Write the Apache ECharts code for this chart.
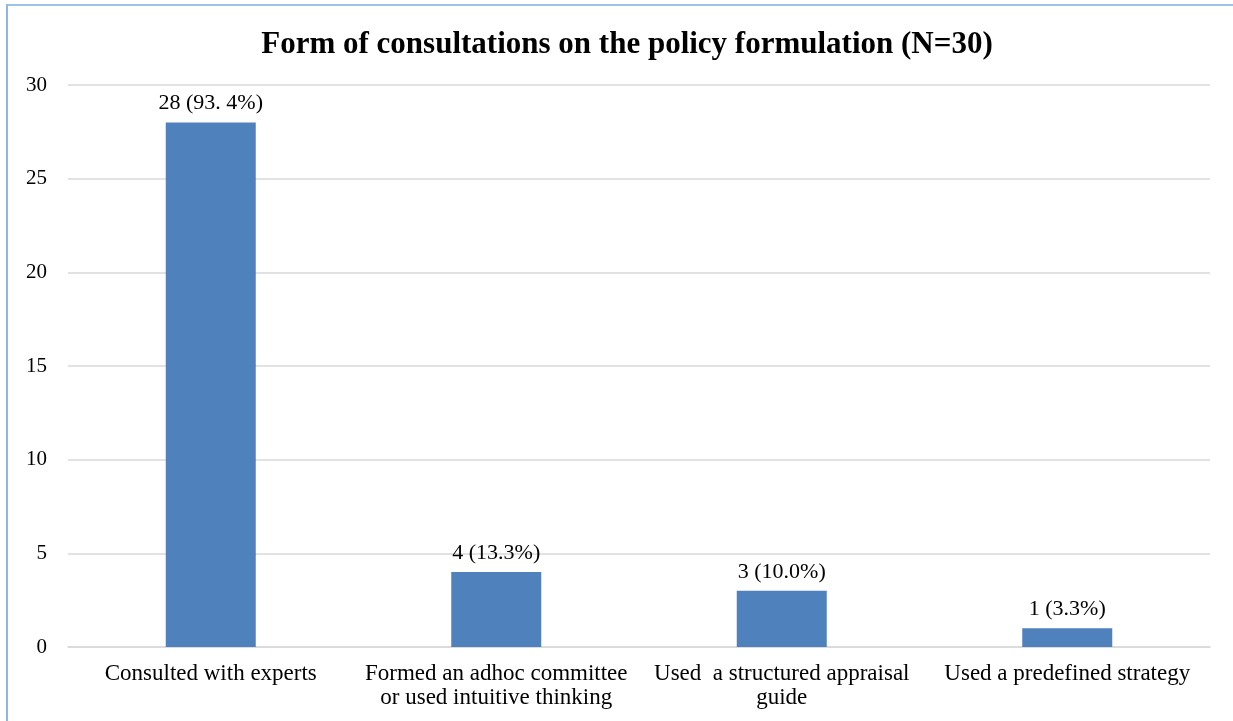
<!DOCTYPE html>
<html>
<head>
<meta charset="utf-8">
<script src="https://cdn.jsdelivr.net/npm/echarts@6/dist/echarts.min.js"></script>
<style>
html,body{margin:0;padding:0;background:#fff;}
#chart{width:1233px;height:721px;position:absolute;left:0;top:0;}
#frame{position:absolute;left:6px;top:4px;width:1240px;height:730px;border-top:2px solid #9dc3e6;border-left:2px solid #8db6e0;pointer-events:none;}
</style>
</head>
<body>
<div id="chart"></div>
<div id="frame"></div>
<script>
const titleText = 'Form of consultations on the policy formulation (N=30)';
const categories = ['Consulted with experts', 'Formed an adhoc committee\nor used intuitive thinking', 'Used  a structured appraisal\nguide', 'Used a predefined strategy'];
const values = [28, 4, 3, 1];
const valueLabels = ['28 (93. 4%)', '4 (13.3%)', '3 (10.0%)', '1 (3.3%)'];
const yTicks = [0, 5, 10, 15, 20, 25, 30];

const chart = echarts.init(document.getElementById('chart'));
const serif = '"Liberation Serif", "Times New Roman", serif';
chart.setOption({
  animation: false,
  title: {
    text: titleText, left: 622, top: 24, textAlign: 'center',
    textStyle: {fontFamily: serif, fontSize: 31, fontWeight: 'bold', color: '#000'}
  },
  grid: {left: 68, right: 23, top: 85, bottom: 74},
  xAxis: {
    type: 'category', data: categories,
    axisLine: {show: true, lineStyle: {color: '#d9d9d9', width: 1.5}},
    axisTick: {show: false},
    axisLabel: {fontFamily: serif, fontSize: 23, color: '#000', margin: 15, lineHeight: 24, interval: 0}
  },
  yAxis: {
    type: 'value', min: yTicks[0], max: yTicks[yTicks.length - 1], interval: 5,
    axisLine: {show: false}, axisTick: {show: false},
    splitLine: {lineStyle: {color: '#d9d9d9', width: 1.5}},
    axisLabel: {fontFamily: serif, fontSize: 21, color: '#000', margin: 21}
  },
  series: [{
    type: 'bar', data: values, barWidth: 90,
    itemStyle: {color: '#4f81bd'},
    label: {
      show: true, position: 'top', distance: 8,
      fontFamily: serif, fontSize: 22, color: '#000',
      formatter: p => valueLabels[p.dataIndex]
    }
  }]
});
</script>
</body>
</html>
